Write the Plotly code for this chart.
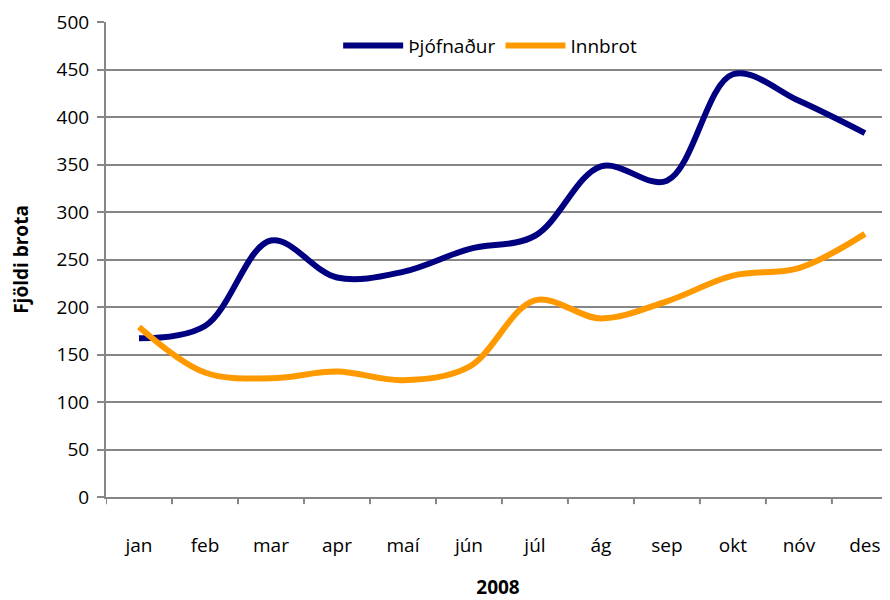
import plotly.graph_objects as go

months = ["jan", "feb", "mar", "apr", "maí", "jún", "júl", "ág", "sep", "okt", "nóv", "des"]
thjofnadur = [167, 180, 270, 231, 237, 261, 275, 348, 333, 445, 417, 383]
innbrot = [179, 131, 125, 132, 123, 137, 207, 188, 206, 233, 241, 277]

FONT = "Open Sans, Roboto, Noto Sans, sans-serif"
GRID = "#868686"

fig = go.Figure()
fig.add_trace(go.Scatter(x=list(range(len(months))), y=thjofnadur, name="Þjófnaður", mode="lines",
                         line=dict(color="#000080", width=6, shape="spline", smoothing=1.0)))
fig.add_trace(go.Scatter(x=list(range(len(months))), y=innbrot, name="Innbrot", mode="lines",
                         line=dict(color="#FF9900", width=6, shape="spline", smoothing=1.0)))

boundaries = [i - 0.5 for i in range(len(months) + 1)]

fig.update_layout(
    width=882, height=592,
    margin=dict(l=98, r=0, t=14, b=103),
    paper_bgcolor="white", plot_bgcolor="white",
    font=dict(family=FONT, size=19, color="#000000"),
    showlegend=True,
    legend=dict(orientation="h", x=0.49, xanchor="center", y=0.99, yanchor="top",
                bgcolor="rgba(0,0,0,0)", font=dict(size=19), itemwidth=60,
                tracegroupgap=0),
    xaxis=dict(
        range=[-0.5, 11.38], automargin=False,
        tickmode="array", tickvals=list(range(len(months))), ticktext=months,
        showgrid=False, zeroline=False,
        showline=True, linecolor=GRID, linewidth=2,
        ticks="", tickfont=dict(size=19),
        title=dict(text="<b>2008</b>", font=dict(size=19), standoff=28),
        ticklabelstandoff=30,
    ),
    yaxis=dict(
        range=[0, 500], tickmode="linear", tick0=0, dtick=50, automargin=False,
        showgrid=True, gridcolor=GRID, gridwidth=2,
        zeroline=False,
        showline=True, linecolor=GRID, linewidth=2,
        ticks="outside", ticklen=7, tickcolor=GRID, tickwidth=2,
        tickfont=dict(size=19), ticklabelstandoff=4,
        title=dict(text="<b>Fjöldi brota</b>", font=dict(size=19), standoff=28),
    ),
)

# category-boundary ticks on the x axis
for b in boundaries:
    fig.add_shape(type="line", xref="x", yref="paper", x0=b, x1=b, y0=0, y1=-0.015,
                  line=dict(color=GRID, width=2), layer="above")

fig.write_html("out.html")
